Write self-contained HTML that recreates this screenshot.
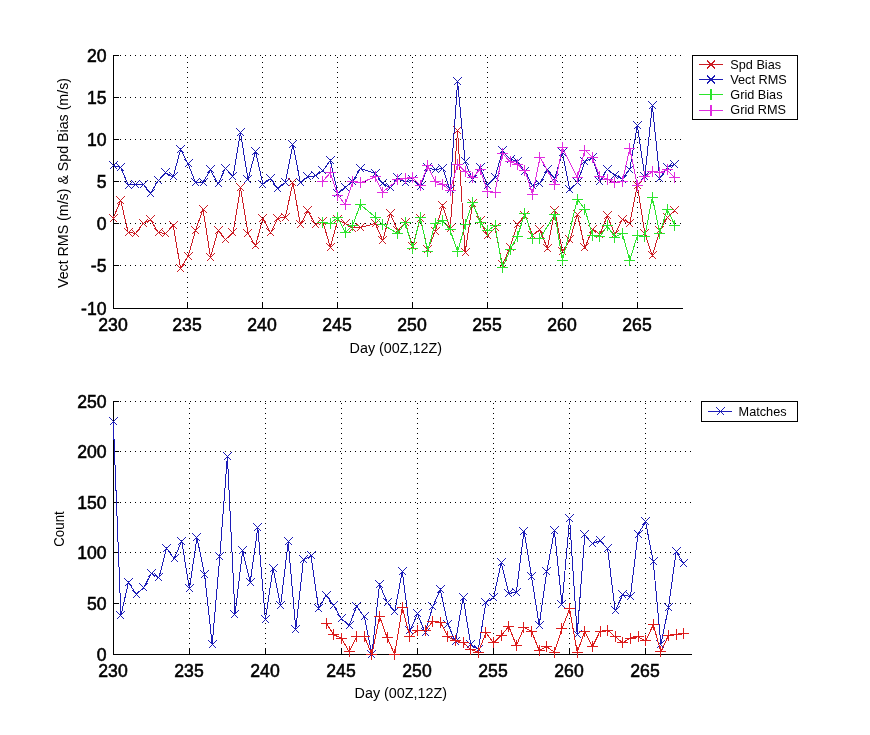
<!DOCTYPE html>
<html><head><meta charset="utf-8"><title>Plot</title>
<style>
html,body{margin:0;padding:0;background:#fff}
svg{display:block}
text{font-family:"Liberation Sans",sans-serif;fill:#000}
.t{font-size:17.6px;stroke:#000;stroke-width:0.55px}
.l{font-size:14px}
.g{font-size:12.7px}
</style></head><body>
<svg width="870" height="735" viewBox="0 0 870 735" shape-rendering="crispEdges">
<rect width="870" height="735" fill="#fff"/>
<path fill="none" stroke="#000" stroke-width="1" stroke-dasharray="1 4" d="M115.0 265.5H683.0M115.0 223.5H683.0M115.0 181.5H683.0M115.0 139.5H683.0M115.0 97.5H683.0M115.0 55.5H683.0M187.5 307.5V55.0M262.5 307.5V55.0M337.5 307.5V55.0M412.5 307.5V55.0M487.5 307.5V55.0M562.5 307.5V55.0M637.5 307.5V55.0"/>
<path fill="none" stroke="#000" stroke-width="1" d="M113.5 55.0V308.5H683.0M113.0 308.5h6M113.0 265.5h6M113.0 223.5h6M113.0 181.5h6M113.0 139.5h6M113.0 97.5h6M113.0 55.5h6M187.5 309.0v-6M262.5 309.0v-6M337.5 309.0v-6M412.5 309.0v-6M487.5 309.0v-6M562.5 309.0v-6M637.5 309.0v-6"/>
<text class="t" x="106.5" y="315.2" text-anchor="end">-10</text>
<text class="t" x="106.5" y="272.2" text-anchor="end">-5</text>
<text class="t" x="106.5" y="230.2" text-anchor="end">0</text>
<text class="t" x="106.5" y="188.2" text-anchor="end">5</text>
<text class="t" x="106.5" y="146.2" text-anchor="end">10</text>
<text class="t" x="106.5" y="104.2" text-anchor="end">15</text>
<text class="t" x="106.5" y="62.2" text-anchor="end">20</text>
<text class="t" x="113.0" y="331.3" text-anchor="middle">230</text>
<text class="t" x="187.0" y="331.3" text-anchor="middle">235</text>
<text class="t" x="262.0" y="331.3" text-anchor="middle">240</text>
<text class="t" x="337.0" y="331.3" text-anchor="middle">245</text>
<text class="t" x="412.0" y="331.3" text-anchor="middle">250</text>
<text class="t" x="487.0" y="331.3" text-anchor="middle">255</text>
<text class="t" x="562.0" y="331.3" text-anchor="middle">260</text>
<text class="t" x="637.0" y="331.3" text-anchor="middle">265</text>
<polyline fill="none" stroke="#cc1c24" stroke-width="1.0" points="113.2,218.0 120.7,200.5 128.2,232.5 135.7,233.3 143.1,223.3 150.6,220.0 158.1,232.2 165.6,233.7 173.1,225.0 180.6,268.4 188.1,256.3 195.6,230.3 203.0,209.1 210.5,257.0 218.0,230.8 225.5,239.5 233.0,233.0 240.5,187.5 248.0,233.3 255.5,245.8 262.9,218.3 270.4,233.0 277.9,218.3 285.4,217.2 292.9,182.5 300.4,224.5 307.9,210.8 315.3,224.5 322.8,221.7 330.3,247.0 337.8,220.0 345.3,223.5 352.8,228.0 360.3,227.5 375.2,223.5 382.7,240.3 390.2,213.5 397.7,230.8 405.2,222.5 412.7,246.9 420.2,218.5 427.7,249.5 435.1,231.6 442.6,205.9 450.1,228.7 457.6,130.8 465.1,252.5 472.6,203.3 480.1,220.4 487.6,235.8 495.0,228.0 502.5,265.0 510.0,247.1 517.5,224.2 525.0,215.0 532.5,235.0 540.0,230.0 547.4,248.4 554.9,210.8 562.4,251.6 569.9,240.0 577.4,214.2 584.9,247.9 592.4,229.1 599.9,234.2 607.3,215.9 614.8,234.2 622.3,219.1 629.8,223.3 637.3,185.2 644.8,233.3 652.3,255.8 659.8,230.8 667.2,217.5 674.7,210.8"/>
<path fill="none" stroke="#cc1c24" stroke-width="1.0" d="M109.5 214.5l8 8m0 -8l-8 8M116.5 196.5l8 8m0 -8l-8 8M124.5 228.5l8 8m0 -8l-8 8M131.5 229.5l8 8m0 -8l-8 8M139.5 219.5l8 8m0 -8l-8 8M146.5 215.5l8 8m0 -8l-8 8M154.5 228.5l8 8m0 -8l-8 8M161.5 229.5l8 8m0 -8l-8 8M169.5 221.5l8 8m0 -8l-8 8M176.5 264.5l8 8m0 -8l-8 8M184.5 252.5l8 8m0 -8l-8 8M191.5 226.5l8 8m0 -8l-8 8M199.5 205.5l8 8m0 -8l-8 8M206.5 253.5l8 8m0 -8l-8 8M214.5 226.5l8 8m0 -8l-8 8M221.5 235.5l8 8m0 -8l-8 8M228.5 228.5l8 8m0 -8l-8 8M236.5 183.5l8 8m0 -8l-8 8M243.5 229.5l8 8m0 -8l-8 8M251.5 241.5l8 8m0 -8l-8 8M258.5 214.5l8 8m0 -8l-8 8M266.5 228.5l8 8m0 -8l-8 8M273.5 214.5l8 8m0 -8l-8 8M281.5 213.5l8 8m0 -8l-8 8M288.5 178.5l8 8m0 -8l-8 8M296.5 220.5l8 8m0 -8l-8 8M303.5 206.5l8 8m0 -8l-8 8M311.5 220.5l8 8m0 -8l-8 8M318.5 217.5l8 8m0 -8l-8 8M326.5 243.5l8 8m0 -8l-8 8M333.5 215.5l8 8m0 -8l-8 8M341.5 219.5l8 8m0 -8l-8 8M348.5 224.5l8 8m0 -8l-8 8M356.5 223.5l8 8m0 -8l-8 8M371.5 219.5l8 8m0 -8l-8 8M378.5 236.5l8 8m0 -8l-8 8M386.5 209.5l8 8m0 -8l-8 8M393.5 226.5l8 8m0 -8l-8 8M401.5 218.5l8 8m0 -8l-8 8M408.5 242.5l8 8m0 -8l-8 8M416.5 214.5l8 8m0 -8l-8 8M423.5 245.5l8 8m0 -8l-8 8M431.5 227.5l8 8m0 -8l-8 8M438.5 201.5l8 8m0 -8l-8 8M446.5 224.5l8 8m0 -8l-8 8M453.5 126.5l8 8m0 -8l-8 8M461.5 248.5l8 8m0 -8l-8 8M468.5 199.5l8 8m0 -8l-8 8M476.5 216.5l8 8m0 -8l-8 8M483.5 231.5l8 8m0 -8l-8 8M491.5 223.5l8 8m0 -8l-8 8M498.5 260.5l8 8m0 -8l-8 8M506.5 243.5l8 8m0 -8l-8 8M513.5 220.5l8 8m0 -8l-8 8M520.5 211.5l8 8m0 -8l-8 8M528.5 231.5l8 8m0 -8l-8 8M535.5 225.5l8 8m0 -8l-8 8M543.5 244.5l8 8m0 -8l-8 8M550.5 206.5l8 8m0 -8l-8 8M558.5 247.5l8 8m0 -8l-8 8M565.5 235.5l8 8m0 -8l-8 8M573.5 210.5l8 8m0 -8l-8 8M580.5 243.5l8 8m0 -8l-8 8M588.5 225.5l8 8m0 -8l-8 8M595.5 230.5l8 8m0 -8l-8 8M603.5 211.5l8 8m0 -8l-8 8M610.5 230.5l8 8m0 -8l-8 8M618.5 215.5l8 8m0 -8l-8 8M625.5 219.5l8 8m0 -8l-8 8M633.5 181.5l8 8m0 -8l-8 8M640.5 229.5l8 8m0 -8l-8 8M648.5 251.5l8 8m0 -8l-8 8M655.5 226.5l8 8m0 -8l-8 8M663.5 213.5l8 8m0 -8l-8 8M670.5 206.5l8 8m0 -8l-8 8"/>
<polyline fill="none" stroke="#1c1cb4" stroke-width="1.0" points="113.2,165.4 120.7,167.5 128.2,185.0 135.7,184.2 143.1,184.2 150.6,193.3 158.1,180.8 165.6,172.8 173.1,177.0 180.6,149.5 188.1,163.9 195.6,182.8 203.0,182.2 210.5,170.0 218.0,183.9 225.5,168.3 233.0,176.6 240.5,132.5 248.0,179.6 255.5,151.2 262.9,184.2 270.4,178.6 277.9,188.8 285.4,182.5 292.9,144.2 300.4,182.8 307.9,177.0 315.3,175.9 322.8,170.8 330.3,160.3 337.8,193.3 345.3,187.1 352.8,181.3 360.3,168.6 375.2,173.4 382.7,183.3 390.2,188.0 397.7,178.0 405.2,182.3 412.7,179.8 420.2,186.7 427.7,167.5 435.1,170.0 442.6,168.1 450.1,190.0 457.6,81.7 465.1,161.7 472.6,179.5 480.1,167.5 487.6,185.0 495.0,177.5 502.5,150.8 510.0,159.2 517.5,161.3 525.0,171.7 532.5,185.9 540.0,183.0 547.4,170.0 554.9,178.3 562.4,152.5 569.9,190.0 577.4,182.5 584.9,161.7 592.4,157.5 599.9,181.3 607.3,169.2 614.8,175.0 622.3,179.1 629.8,169.2 637.3,125.2 644.8,176.6 652.3,105.3 659.8,178.3 667.2,167.5 674.7,164.2"/>
<path fill="none" stroke="#1c1cb4" stroke-width="1.0" d="M109.5 161.5l8 8m0 -8l-8 8M116.5 163.5l8 8m0 -8l-8 8M124.5 181.5l8 8m0 -8l-8 8M131.5 180.5l8 8m0 -8l-8 8M139.5 180.5l8 8m0 -8l-8 8M146.5 189.5l8 8m0 -8l-8 8M154.5 176.5l8 8m0 -8l-8 8M161.5 168.5l8 8m0 -8l-8 8M169.5 172.5l8 8m0 -8l-8 8M176.5 145.5l8 8m0 -8l-8 8M184.5 159.5l8 8m0 -8l-8 8M191.5 178.5l8 8m0 -8l-8 8M199.5 178.5l8 8m0 -8l-8 8M206.5 165.5l8 8m0 -8l-8 8M214.5 179.5l8 8m0 -8l-8 8M221.5 164.5l8 8m0 -8l-8 8M228.5 172.5l8 8m0 -8l-8 8M236.5 128.5l8 8m0 -8l-8 8M243.5 175.5l8 8m0 -8l-8 8M251.5 147.5l8 8m0 -8l-8 8M258.5 180.5l8 8m0 -8l-8 8M266.5 174.5l8 8m0 -8l-8 8M273.5 184.5l8 8m0 -8l-8 8M281.5 178.5l8 8m0 -8l-8 8M288.5 140.5l8 8m0 -8l-8 8M296.5 178.5l8 8m0 -8l-8 8M303.5 172.5l8 8m0 -8l-8 8M311.5 171.5l8 8m0 -8l-8 8M318.5 166.5l8 8m0 -8l-8 8M326.5 156.5l8 8m0 -8l-8 8M333.5 189.5l8 8m0 -8l-8 8M341.5 183.5l8 8m0 -8l-8 8M348.5 177.5l8 8m0 -8l-8 8M356.5 164.5l8 8m0 -8l-8 8M371.5 169.5l8 8m0 -8l-8 8M378.5 179.5l8 8m0 -8l-8 8M386.5 183.5l8 8m0 -8l-8 8M393.5 173.5l8 8m0 -8l-8 8M401.5 178.5l8 8m0 -8l-8 8M408.5 175.5l8 8m0 -8l-8 8M416.5 182.5l8 8m0 -8l-8 8M423.5 163.5l8 8m0 -8l-8 8M431.5 165.5l8 8m0 -8l-8 8M438.5 164.5l8 8m0 -8l-8 8M446.5 185.5l8 8m0 -8l-8 8M453.5 77.5l8 8m0 -8l-8 8M461.5 157.5l8 8m0 -8l-8 8M468.5 175.5l8 8m0 -8l-8 8M476.5 163.5l8 8m0 -8l-8 8M483.5 181.5l8 8m0 -8l-8 8M491.5 173.5l8 8m0 -8l-8 8M498.5 146.5l8 8m0 -8l-8 8M506.5 155.5l8 8m0 -8l-8 8M513.5 157.5l8 8m0 -8l-8 8M520.5 167.5l8 8m0 -8l-8 8M528.5 181.5l8 8m0 -8l-8 8M535.5 179.5l8 8m0 -8l-8 8M543.5 165.5l8 8m0 -8l-8 8M550.5 174.5l8 8m0 -8l-8 8M558.5 148.5l8 8m0 -8l-8 8M565.5 185.5l8 8m0 -8l-8 8M573.5 178.5l8 8m0 -8l-8 8M580.5 157.5l8 8m0 -8l-8 8M588.5 153.5l8 8m0 -8l-8 8M595.5 177.5l8 8m0 -8l-8 8M603.5 165.5l8 8m0 -8l-8 8M610.5 171.5l8 8m0 -8l-8 8M618.5 175.5l8 8m0 -8l-8 8M625.5 165.5l8 8m0 -8l-8 8M633.5 121.5l8 8m0 -8l-8 8M640.5 172.5l8 8m0 -8l-8 8M648.5 101.5l8 8m0 -8l-8 8M655.5 174.5l8 8m0 -8l-8 8M663.5 163.5l8 8m0 -8l-8 8M670.5 160.5l8 8m0 -8l-8 8"/>
<polyline fill="none" stroke="#2ce42c" stroke-width="1.0" points="322.8,222.5 330.3,223.3 337.8,217.5 345.3,232.8 352.8,225.0 360.3,204.5 375.2,217.1 382.7,224.4 397.7,233.5 405.2,222.7 412.7,248.7 420.2,217.1 427.7,251.2 435.1,223.5 442.6,220.8 450.1,230.0 457.6,251.8 465.1,224.8 472.6,202.5 480.1,222.5 487.6,230.8 495.0,225.4 502.5,267.9 510.0,250.0 517.5,236.1 525.0,213.3 532.5,238.4 540.0,238.4 554.9,214.2 562.4,260.8 577.4,199.5 584.9,209.1 592.4,235.0 599.9,236.7 607.3,225.9 614.8,237.0 622.3,233.3 629.8,260.3 637.3,235.8 644.8,236.4 652.3,197.3 659.8,233.3 667.2,209.1 674.7,225.0"/>
<path fill="none" stroke="#2ce42c" stroke-width="1.0" d="M317.0 222.5h11m-5.5 -5.5v11M325.0 223.5h11m-5.5 -5.5v11M332.0 217.5h11m-5.5 -5.5v11M340.0 232.5h11m-5.5 -5.5v11M347.0 225.5h11m-5.5 -5.5v11M355.0 204.5h11m-5.5 -5.5v11M370.0 217.5h11m-5.5 -5.5v11M377.0 224.5h11m-5.5 -5.5v11M392.0 233.5h11m-5.5 -5.5v11M400.0 222.5h11m-5.5 -5.5v11M407.0 248.5h11m-5.5 -5.5v11M415.0 217.5h11m-5.5 -5.5v11M422.0 251.5h11m-5.5 -5.5v11M430.0 223.5h11m-5.5 -5.5v11M437.0 220.5h11m-5.5 -5.5v11M445.0 229.5h11m-5.5 -5.5v11M452.0 251.5h11m-5.5 -5.5v11M460.0 224.5h11m-5.5 -5.5v11M467.0 202.5h11m-5.5 -5.5v11M475.0 222.5h11m-5.5 -5.5v11M482.0 230.5h11m-5.5 -5.5v11M490.0 225.5h11m-5.5 -5.5v11M497.0 267.5h11m-5.5 -5.5v11M505.0 249.5h11m-5.5 -5.5v11M512.0 236.5h11m-5.5 -5.5v11M519.0 213.5h11m-5.5 -5.5v11M527.0 238.5h11m-5.5 -5.5v11M534.0 238.5h11m-5.5 -5.5v11M549.0 214.5h11m-5.5 -5.5v11M557.0 260.5h11m-5.5 -5.5v11M572.0 199.5h11m-5.5 -5.5v11M579.0 209.5h11m-5.5 -5.5v11M587.0 235.5h11m-5.5 -5.5v11M594.0 236.5h11m-5.5 -5.5v11M602.0 225.5h11m-5.5 -5.5v11M609.0 237.5h11m-5.5 -5.5v11M617.0 233.5h11m-5.5 -5.5v11M624.0 260.5h11m-5.5 -5.5v11M632.0 235.5h11m-5.5 -5.5v11M639.0 236.5h11m-5.5 -5.5v11M647.0 197.5h11m-5.5 -5.5v11M654.0 233.5h11m-5.5 -5.5v11M662.0 209.5h11m-5.5 -5.5v11M669.0 225.5h11m-5.5 -5.5v11"/>
<polyline fill="none" stroke="#e02ce0" stroke-width="1.0" points="322.8,181.2 330.3,172.8 337.8,195.4 345.3,204.5 352.8,181.7 360.3,182.8 375.2,177.0 382.7,192.1 397.7,180.0 405.2,178.3 412.7,177.5 420.2,185.0 427.7,165.8 435.1,181.7 442.6,184.2 450.1,190.8 457.6,164.2 465.1,171.7 472.6,177.5 480.1,169.2 487.6,191.7 495.0,192.5 502.5,153.4 510.0,161.7 517.5,164.2 525.0,170.8 532.5,194.2 540.0,157.1 554.9,184.2 562.4,147.5 577.4,177.5 584.9,150.0 592.4,157.5 599.9,176.6 607.3,179.1 614.8,182.5 622.3,181.7 629.8,148.5 637.3,185.2 644.8,176.8 652.3,171.7 659.8,172.5 667.2,170.0 674.7,177.5"/>
<path fill="none" stroke="#e02ce0" stroke-width="1.0" d="M317.0 181.5h11m-5.5 -5.5v11M325.0 172.5h11m-5.5 -5.5v11M332.0 195.5h11m-5.5 -5.5v11M340.0 204.5h11m-5.5 -5.5v11M347.0 181.5h11m-5.5 -5.5v11M355.0 182.5h11m-5.5 -5.5v11M370.0 176.5h11m-5.5 -5.5v11M377.0 192.5h11m-5.5 -5.5v11M392.0 179.5h11m-5.5 -5.5v11M400.0 178.5h11m-5.5 -5.5v11M407.0 177.5h11m-5.5 -5.5v11M415.0 185.5h11m-5.5 -5.5v11M422.0 165.5h11m-5.5 -5.5v11M430.0 181.5h11m-5.5 -5.5v11M437.0 184.5h11m-5.5 -5.5v11M445.0 190.5h11m-5.5 -5.5v11M452.0 164.5h11m-5.5 -5.5v11M460.0 171.5h11m-5.5 -5.5v11M467.0 177.5h11m-5.5 -5.5v11M475.0 169.5h11m-5.5 -5.5v11M482.0 191.5h11m-5.5 -5.5v11M490.0 192.5h11m-5.5 -5.5v11M497.0 153.5h11m-5.5 -5.5v11M505.0 161.5h11m-5.5 -5.5v11M512.0 164.5h11m-5.5 -5.5v11M519.0 170.5h11m-5.5 -5.5v11M527.0 194.5h11m-5.5 -5.5v11M534.0 157.5h11m-5.5 -5.5v11M549.0 184.5h11m-5.5 -5.5v11M557.0 147.5h11m-5.5 -5.5v11M572.0 177.5h11m-5.5 -5.5v11M579.0 150.5h11m-5.5 -5.5v11M587.0 157.5h11m-5.5 -5.5v11M594.0 176.5h11m-5.5 -5.5v11M602.0 179.5h11m-5.5 -5.5v11M609.0 182.5h11m-5.5 -5.5v11M617.0 181.5h11m-5.5 -5.5v11M624.0 148.5h11m-5.5 -5.5v11M632.0 185.5h11m-5.5 -5.5v11M639.0 176.5h11m-5.5 -5.5v11M647.0 171.5h11m-5.5 -5.5v11M654.0 172.5h11m-5.5 -5.5v11M662.0 169.5h11m-5.5 -5.5v11M669.0 177.5h11m-5.5 -5.5v11"/>
<path fill="none" stroke="#000" stroke-width="1" stroke-dasharray="1 4" d="M115.0 603.5H692.0M115.0 552.5H692.0M115.0 502.5H692.0M115.0 451.5H692.0M115.0 401.5H692.0M189.5 653.5V401.0M265.5 653.5V401.0M341.5 653.5V401.0M417.5 653.5V401.0M493.5 653.5V401.0M569.5 653.5V401.0M645.5 653.5V401.0"/>
<path fill="none" stroke="#000" stroke-width="1" d="M113.5 401.0V654.5H692.0M113.0 654.5h6M113.0 603.5h6M113.0 552.5h6M113.0 502.5h6M113.0 451.5h6M113.0 401.5h6M189.5 655.0v-6M265.5 655.0v-6M341.5 655.0v-6M417.5 655.0v-6M493.5 655.0v-6M569.5 655.0v-6M645.5 655.0v-6"/>
<text class="t" x="106.5" y="661.2" text-anchor="end">0</text>
<text class="t" x="106.5" y="610.2" text-anchor="end">50</text>
<text class="t" x="106.5" y="559.2" text-anchor="end">100</text>
<text class="t" x="106.5" y="509.2" text-anchor="end">150</text>
<text class="t" x="106.5" y="458.2" text-anchor="end">200</text>
<text class="t" x="106.5" y="408.2" text-anchor="end">250</text>
<text class="t" x="113.0" y="677.3" text-anchor="middle">230</text>
<text class="t" x="189.0" y="677.3" text-anchor="middle">235</text>
<text class="t" x="265.0" y="677.3" text-anchor="middle">240</text>
<text class="t" x="341.0" y="677.3" text-anchor="middle">245</text>
<text class="t" x="417.0" y="677.3" text-anchor="middle">250</text>
<text class="t" x="493.0" y="677.3" text-anchor="middle">255</text>
<text class="t" x="569.0" y="677.3" text-anchor="middle">260</text>
<text class="t" x="645.0" y="677.3" text-anchor="middle">265</text>
<polyline fill="none" stroke="#1c1cb8" stroke-width="1.0" points="113.3,421.1 120.9,615.4 128.5,582.3 136.1,594.1 143.7,587.9 151.3,573.3 158.9,577.9 166.5,548.2 174.1,558.7 181.7,541.2 189.4,588.7 197.0,537.8 204.6,574.6 212.2,644.4 219.8,556.6 227.4,456.1 235.0,614.6 242.6,550.7 250.2,582.3 257.8,527.8 265.4,619.5 273.0,568.4 280.6,605.4 288.2,542.0 295.8,629.3 303.4,560.0 311.0,555.8 318.6,608.5 326.2,595.3 333.8,605.5 341.4,618.9 349.1,625.5 356.7,606.2 364.3,616.9 371.9,654.2 379.5,584.5 387.1,602.1 394.7,611.8 402.3,571.3 409.9,630.9 417.5,613.9 425.1,632.6 432.7,606.7 440.3,589.7 447.9,624.2 455.5,641.9 463.1,597.5 470.7,644.4 478.3,649.4 485.9,602.6 493.6,597.5 501.2,562.5 508.8,593.4 516.4,592.3 524.0,531.1 531.6,577.0 539.2,625.2 546.8,571.7 554.4,530.7 562.0,604.4 569.6,518.9 577.2,634.3 584.8,534.9 592.4,543.6 600.0,540.6 607.6,548.6 615.2,610.7 622.8,594.6 630.4,596.7 638.0,534.1 645.6,521.9 653.3,561.9 660.9,644.4 668.5,607.5 676.1,551.7 683.7,563.4"/>
<path fill="none" stroke="#1c1cb8" stroke-width="1.0" d="M109.5 417.5l8 8m0 -8l-8 8M116.5 611.5l8 8m0 -8l-8 8M124.5 578.5l8 8m0 -8l-8 8M132.5 590.5l8 8m0 -8l-8 8M139.5 583.5l8 8m0 -8l-8 8M147.5 569.5l8 8m0 -8l-8 8M154.5 573.5l8 8m0 -8l-8 8M162.5 544.5l8 8m0 -8l-8 8M170.5 554.5l8 8m0 -8l-8 8M177.5 537.5l8 8m0 -8l-8 8M185.5 584.5l8 8m0 -8l-8 8M192.5 533.5l8 8m0 -8l-8 8M200.5 570.5l8 8m0 -8l-8 8M208.5 640.5l8 8m0 -8l-8 8M215.5 552.5l8 8m0 -8l-8 8M223.5 452.5l8 8m0 -8l-8 8M230.5 610.5l8 8m0 -8l-8 8M238.5 546.5l8 8m0 -8l-8 8M246.5 578.5l8 8m0 -8l-8 8M253.5 523.5l8 8m0 -8l-8 8M261.5 615.5l8 8m0 -8l-8 8M269.5 564.5l8 8m0 -8l-8 8M276.5 601.5l8 8m0 -8l-8 8M284.5 537.5l8 8m0 -8l-8 8M291.5 625.5l8 8m0 -8l-8 8M299.5 555.5l8 8m0 -8l-8 8M307.5 551.5l8 8m0 -8l-8 8M314.5 604.5l8 8m0 -8l-8 8M322.5 591.5l8 8m0 -8l-8 8M329.5 601.5l8 8m0 -8l-8 8M337.5 614.5l8 8m0 -8l-8 8M345.5 621.5l8 8m0 -8l-8 8M352.5 602.5l8 8m0 -8l-8 8M360.5 612.5l8 8m0 -8l-8 8M367.5 650.5l8 8m0 -8l-8 8M375.5 580.5l8 8m0 -8l-8 8M383.5 598.5l8 8m0 -8l-8 8M390.5 607.5l8 8m0 -8l-8 8M398.5 567.5l8 8m0 -8l-8 8M405.5 626.5l8 8m0 -8l-8 8M413.5 609.5l8 8m0 -8l-8 8M421.5 628.5l8 8m0 -8l-8 8M428.5 602.5l8 8m0 -8l-8 8M436.5 585.5l8 8m0 -8l-8 8M443.5 620.5l8 8m0 -8l-8 8M451.5 637.5l8 8m0 -8l-8 8M459.5 593.5l8 8m0 -8l-8 8M466.5 640.5l8 8m0 -8l-8 8M474.5 645.5l8 8m0 -8l-8 8M481.5 598.5l8 8m0 -8l-8 8M489.5 593.5l8 8m0 -8l-8 8M497.5 558.5l8 8m0 -8l-8 8M504.5 589.5l8 8m0 -8l-8 8M512.5 588.5l8 8m0 -8l-8 8M519.5 527.5l8 8m0 -8l-8 8M527.5 572.5l8 8m0 -8l-8 8M535.5 621.5l8 8m0 -8l-8 8M542.5 567.5l8 8m0 -8l-8 8M550.5 526.5l8 8m0 -8l-8 8M557.5 600.5l8 8m0 -8l-8 8M565.5 514.5l8 8m0 -8l-8 8M573.5 630.5l8 8m0 -8l-8 8M580.5 530.5l8 8m0 -8l-8 8M588.5 539.5l8 8m0 -8l-8 8M596.5 536.5l8 8m0 -8l-8 8M603.5 544.5l8 8m0 -8l-8 8M611.5 606.5l8 8m0 -8l-8 8M618.5 590.5l8 8m0 -8l-8 8M626.5 592.5l8 8m0 -8l-8 8M634.5 530.5l8 8m0 -8l-8 8M641.5 517.5l8 8m0 -8l-8 8M649.5 557.5l8 8m0 -8l-8 8M656.5 640.5l8 8m0 -8l-8 8M664.5 603.5l8 8m0 -8l-8 8M672.5 547.5l8 8m0 -8l-8 8M679.5 559.5l8 8m0 -8l-8 8"/>
<polyline fill="none" stroke="#dc1c1c" stroke-width="1.0" points="326.2,623.4 333.8,634.8 341.4,638.1 349.1,651.9 356.7,636.5 364.3,636.5 371.9,654.5 379.5,616.4 387.1,637.5 394.7,654.5 402.3,607.5 409.9,636.8 417.5,630.1 425.1,630.9 432.7,621.4 440.3,622.1 447.9,636.8 455.5,640.9 463.1,642.7 470.7,649.3 478.3,652.2 485.9,632.9 493.6,642.7 501.2,635.5 508.8,626.5 516.4,645.5 524.0,627.6 531.6,631.4 539.2,650.5 546.8,646.8 554.4,652.2 562.0,628.5 569.6,609.0 577.2,652.2 584.8,631.4 592.4,646.8 600.0,631.4 607.6,630.1 615.2,636.8 622.8,642.7 630.4,638.1 638.0,636.8 645.6,640.9 653.3,624.8 660.9,651.9 668.5,635.2 676.1,634.3 683.7,633.5"/>
<path fill="none" stroke="#dc1c1c" stroke-width="1.0" d="M321.0 623.5h11m-5.5 -5.5v11M328.0 634.5h11m-5.5 -5.5v11M336.0 638.5h11m-5.5 -5.5v11M344.0 651.5h11m-5.5 -5.5v11M351.0 636.5h11m-5.5 -5.5v11M359.0 636.5h11m-5.5 -5.5v11M366.0 654.5h11m-5.5 -5.5v11M374.0 616.5h11m-5.5 -5.5v11M382.0 637.5h11m-5.5 -5.5v11M389.0 654.5h11m-5.5 -5.5v11M397.0 607.5h11m-5.5 -5.5v11M404.0 636.5h11m-5.5 -5.5v11M412.0 630.5h11m-5.5 -5.5v11M420.0 630.5h11m-5.5 -5.5v11M427.0 621.5h11m-5.5 -5.5v11M435.0 622.5h11m-5.5 -5.5v11M442.0 636.5h11m-5.5 -5.5v11M450.0 640.5h11m-5.5 -5.5v11M458.0 642.5h11m-5.5 -5.5v11M465.0 649.5h11m-5.5 -5.5v11M473.0 652.5h11m-5.5 -5.5v11M480.0 632.5h11m-5.5 -5.5v11M488.0 642.5h11m-5.5 -5.5v11M496.0 635.5h11m-5.5 -5.5v11M503.0 626.5h11m-5.5 -5.5v11M511.0 645.5h11m-5.5 -5.5v11M518.0 627.5h11m-5.5 -5.5v11M526.0 631.5h11m-5.5 -5.5v11M534.0 650.5h11m-5.5 -5.5v11M541.0 646.5h11m-5.5 -5.5v11M549.0 652.5h11m-5.5 -5.5v11M556.0 628.5h11m-5.5 -5.5v11M564.0 608.5h11m-5.5 -5.5v11M572.0 652.5h11m-5.5 -5.5v11M579.0 631.5h11m-5.5 -5.5v11M587.0 646.5h11m-5.5 -5.5v11M595.0 631.5h11m-5.5 -5.5v11M602.0 630.5h11m-5.5 -5.5v11M610.0 636.5h11m-5.5 -5.5v11M617.0 642.5h11m-5.5 -5.5v11M625.0 638.5h11m-5.5 -5.5v11M633.0 636.5h11m-5.5 -5.5v11M640.0 640.5h11m-5.5 -5.5v11M648.0 624.5h11m-5.5 -5.5v11M655.0 651.5h11m-5.5 -5.5v11M663.0 635.5h11m-5.5 -5.5v11M671.0 634.5h11m-5.5 -5.5v11M678.0 633.5h11m-5.5 -5.5v11"/>
<text class="l" x="395.8" y="352.8" text-anchor="middle" textLength="92.5" lengthAdjust="spacingAndGlyphs">Day (00Z,12Z)</text>
<text class="l" x="400.8" y="698.4" text-anchor="middle" textLength="92.5" lengthAdjust="spacingAndGlyphs">Day (00Z,12Z)</text>
<text class="l" transform="translate(67.7 183) rotate(-90)" text-anchor="middle" textLength="210" lengthAdjust="spacingAndGlyphs">Vect RMS (m/s) &amp; Spd Bias (m/s)</text>
<text class="l" transform="translate(64 529) rotate(-90)" text-anchor="middle" textLength="35.5" lengthAdjust="spacingAndGlyphs">Count</text>
<rect x="692.5" y="55.5" width="105" height="64" fill="#fff" stroke="#000"/>
<path fill="none" stroke="#cc1c24" stroke-width="1.1" d="M699 64.3H722.5"/>
<path fill="none" stroke="#cc1c24" stroke-width="1.1" d="M707.0 60.3l8 8m0 -8l-8 8"/>
<text class="g" x="730.3" y="68.6">Spd Bias</text>
<path fill="none" stroke="#1c1cb4" stroke-width="1.1" d="M699 79.4H722.5"/>
<path fill="none" stroke="#1c1cb4" stroke-width="1.1" d="M707.0 75.4l8 8m0 -8l-8 8"/>
<text class="g" x="730.3" y="83.6">Vect RMS</text>
<path fill="none" stroke="#2ce42c" stroke-width="1.1" d="M699 94.5H722.5"/>
<path fill="none" stroke="#2ce42c" stroke-width="1.1" d="M711.0 89.0v11"/>
<text class="g" x="730.3" y="98.6">Grid Bias</text>
<path fill="none" stroke="#e02ce0" stroke-width="1.1" d="M699 110.2H722.5"/>
<path fill="none" stroke="#e02ce0" stroke-width="1.1" d="M711.0 104.7v11"/>
<text class="g" x="730.3" y="113.5">Grid RMS</text>
<rect x="701.5" y="401.5" width="96" height="20" fill="#fff" stroke="#000"/>
<path fill="none" stroke="#1c1cb8" stroke-width="1.1" d="M708 411.5H732M716.5 407.5l8 8m0 -8l-8 8"/>
<text class="g" x="738.6" y="415.6">Matches</text>
</svg>
</body></html>
